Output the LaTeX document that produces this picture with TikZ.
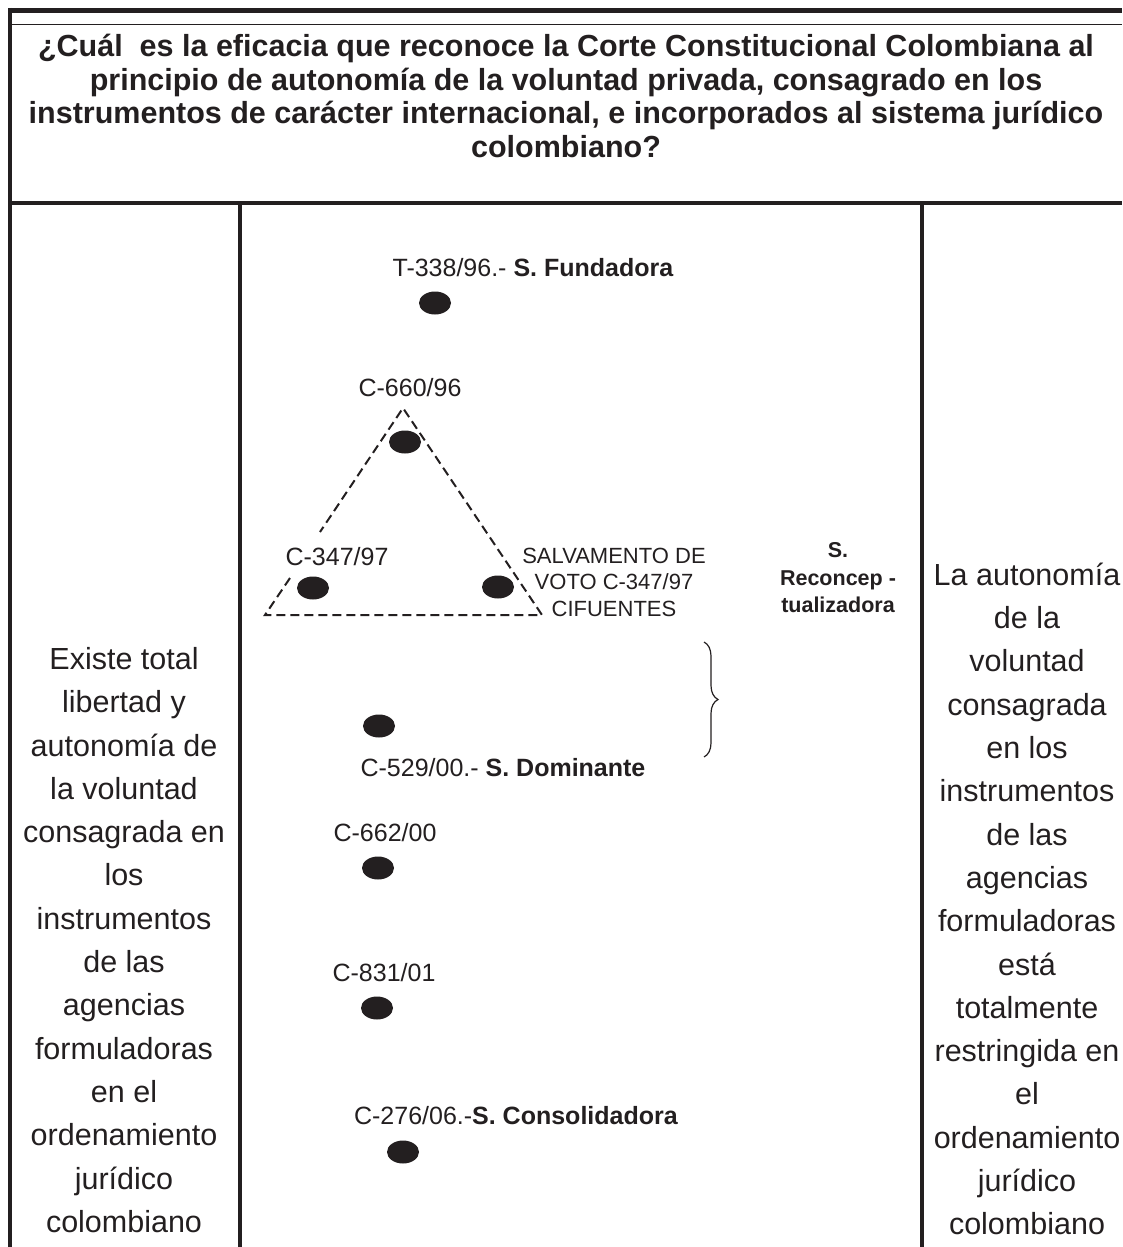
\documentclass[tikz,border=0pt]{standalone}
\usepackage{fontspec}
\setmainfont{Liberation Sans}
\usetikzlibrary{shapes.geometric,decorations.pathreplacing}
\definecolor{ink}{RGB}{35,31,32}
\begin{document}
\begin{tikzpicture}[x=1pt,y=-1pt,
  rule/.style={draw=ink,line width=4pt},
  thinrule/.style={draw=ink,line width=1pt},
  dot/.style={ellipse,fill=ink,draw=none,minimum width=32pt,minimum height=23pt,inner sep=0pt},
  body/.style={align=center,inner sep=0pt,text=ink,font=\fontsize{30.5}{43.3}\selectfont},
  lbl/.style={inner sep=0pt,text=ink,font=\fontsize{25}{29}\selectfont},
  small/.style={align=center,inner sep=0pt,text=ink,font=\fontsize{22}{26.5}\selectfont},
  tri/.style={draw=ink,line width=2pt,dash pattern=on 9pt off 5pt}]
\useasboundingbox (0,0) rectangle (1122,1247);
% frame
\draw[draw=ink,line width=5pt] (8,10.5) -- (1122,10.5);
\draw[thinrule] (10,25) -- (1122,25);
\draw[rule] (10,8) -- (10,1247);
\draw[rule] (10,203) -- (1122,203);
\draw[draw=ink,line width=3.5pt] (240,203) -- (240,1247);
\draw[draw=ink,line width=3.5pt] (922,203) -- (922,1247);
% header
\node[align=center,inner sep=0pt,text=ink,font=\fontsize{30.5}{33.5}\selectfont\bfseries] (q) at (566,96)
 {¿Cuál\ \ es la eficacia que reconoce la Corte Constitucional Colombiana al\\
  principio de autonomía de la voluntad privada, consagrado en los\\
  instrumentos de carácter internacional, e incorporados al sistema jurídico\\
  colombiano?};
% side columns
\node[body] (left) at (124,940)
 {Existe total\\libertad y\\autonomía de\\la voluntad\\consagrada en\\los\\instrumentos\\de las\\agencias\\formuladoras\\en el\\ordenamiento\\jurídico\\colombiano};
\node[body] (right) at (1027,899)
 {La autonomía\\de la\\voluntad\\consagrada\\en los\\instrumentos\\de las\\agencias\\formuladoras\\está\\totalmente\\restringida en\\el\\ordenamiento\\jurídico\\colombiano};
% middle column
\node[lbl] (t338) at (533,268) {T-338/96.- \textbf{S. Fundadora}};
\node[dot] (d338) at (435,303) {};
\node[lbl] (c660) at (410,388) {C-660/96};
\node[dot] (d660) at (405,442) {};
\node[lbl] (c347) at (337,557) {C-347/97};
\node[dot] (d347) at (313,588) {};
\node[dot] (dsv) at (498,587) {};
\node[small] (sv) at (614,582) {SALVAMENTO DE\\VOTO C-347/97\\CIFUENTES};
\node[small,font=\fontsize{21.5}{27.5}\selectfont\bfseries] (reco) at (838,578) {S.\\Reconcep -\\tualizadora};
% triangle
\coordinate (apex) at (403,408);
\coordinate (bl) at (265,615);
\coordinate (br) at (542,615);
\coordinate (gtop) at (320,532);
\coordinate (gbot) at (290,578);
\draw[tri] (gbot) -- (bl) -- (br) -- (apex) -- (gtop);
% brace
\coordinate (btop) at (704,642);
\coordinate (bbot) at (704,757);
\draw[draw=ink,line width=1.2pt,decorate,decoration={brace,amplitude=14pt}] (btop) -- (bbot);
\node[dot] (d529) at (379,726) {};
\node[lbl] (c529) at (503,768) {C-529/00.- \textbf{S. Dominante}};
\node[lbl] (c662) at (385,833) {C-662/00};
\node[dot] (d662) at (378,868) {};
\node[lbl] (c831) at (384,973) {C-831/01};
\node[dot] (d831) at (377,1008) {};
\node[lbl] (c276) at (516,1116) {C-276/06.-\textbf{S. Consolidadora}};
\node[dot] (d276) at (403,1152) {};
\end{tikzpicture}
\end{document}
